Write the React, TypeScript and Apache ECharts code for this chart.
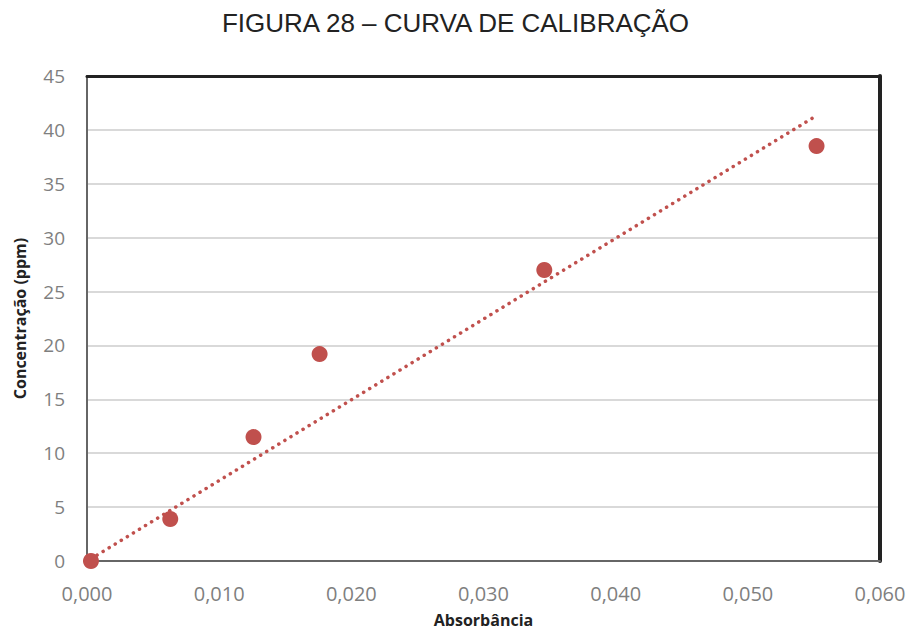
import React, { useEffect, useRef } from "react";
import * as echarts from "echarts";

const titleText = "FIGURA 28 – CURVA DE CALIBRAÇÃO";
const xName = "Absorbância";
const yName = "Concentração (ppm)";
const absorbance = [0.0003, 0.0063, 0.0126, 0.0176, 0.0346, 0.0552];
const concentration = [0.0, 3.9, 11.5, 19.2, 27.0, 38.5];
const trendX = [0.0003, 0.0549];
const trendY = [0.2, 41.1];

export default function App() {
  const ref = useRef<HTMLDivElement>(null);
  useEffect(() => {
    if (!ref.current) return;
    const chart = echarts.init(ref.current, undefined, { renderer: "svg" });
    const pts = absorbance.map((x, i) => [x, concentration[i]]);
    const trend = trendX.map((x, i) => [x, trendY[i]]);
    chart.setOption({
      animation: false,
      backgroundColor: "#ffffff",
      title: {
        text: titleText,
        left: "center",
        top: 5,
        textStyle: { fontFamily: "Liberation Sans", fontSize: 26, fontWeight: "normal", color: "#222" },
      },
      grid: {
        left: 87, top: 76, right: 31, bottom: 70,
        outerBoundsMode: "none",
        containLabel: false,
        show: true, borderColor: "#8c8c8c", borderWidth: 2,
      },
      xAxis: [
        {
          type: "value",
          min: 0,
          max: 0.06,
          interval: 0.01,
          name: xName,
          nameLocation: "middle",
          nameGap: 51,
          nameTextStyle: { fontFamily: "Open Sans", fontWeight: "bold", fontSize: 16, color: "#222" },
          axisLine: { show: true, onZero: false, lineStyle: { color: "#666", width: 2 } },
          axisTick: { show: false },
          splitLine: { show: false },
          axisLabel: {
            formatter: (v: number) => v.toFixed(3).replace(".", ","),
            fontFamily: "Open Sans",
            fontSize: 20,
            color: "#7f7f7f",
            margin: 22,
          },
        },
        {
          type: "value",
          position: "top",
          min: 0,
          max: 0.06,
          axisLine: { show: true, onZero: false, lineStyle: { color: "#222", width: 3 } },
          axisTick: { show: false },
          axisLabel: { show: false },
          splitLine: { show: false },
        },
      ],
      yAxis: [
        {
          type: "value",
          min: 0,
          max: 45,
          interval: 5,
          name: yName,
          nameLocation: "middle",
          nameGap: 59,
          nameTextStyle: { fontFamily: "Open Sans", fontWeight: "bold", fontSize: 16, color: "#222" },
          axisLine: { show: true, onZero: false, lineStyle: { color: "#666", width: 2 } },
          axisTick: { show: false },
          splitLine: { show: true, lineStyle: { color: "#d9d9d9", width: 2 } },
          axisLabel: { fontFamily: "Open Sans", fontSize: 19, color: "#7f7f7f", margin: 22 },
        },
        {
          type: "value",
          position: "right",
          min: 0,
          max: 45,
          axisLine: { show: true, onZero: false, lineStyle: { color: "#222", width: 4 } },
          axisTick: { show: false },
          axisLabel: { show: false },
          splitLine: { show: false },
        },
      ],
      series: [
        {
          type: "line",
          data: trend,
          showSymbol: false,
          symbol: "none",
          lineStyle: { color: "#c0504d", width: 3.5, type: [0.1, 7], cap: "round" },
          z: 2,
        },
        {
          type: "scatter",
          data: pts,
          symbolSize: 16,
          itemStyle: { color: "#c0504d", opacity: 1 },
          z: 3,
        },
      ],
    });
    return () => chart.dispose();
  }, []);
  return <div ref={ref} style={{ width: 911, height: 631, position: "absolute", left: 0, top: 0 }} />;
}
